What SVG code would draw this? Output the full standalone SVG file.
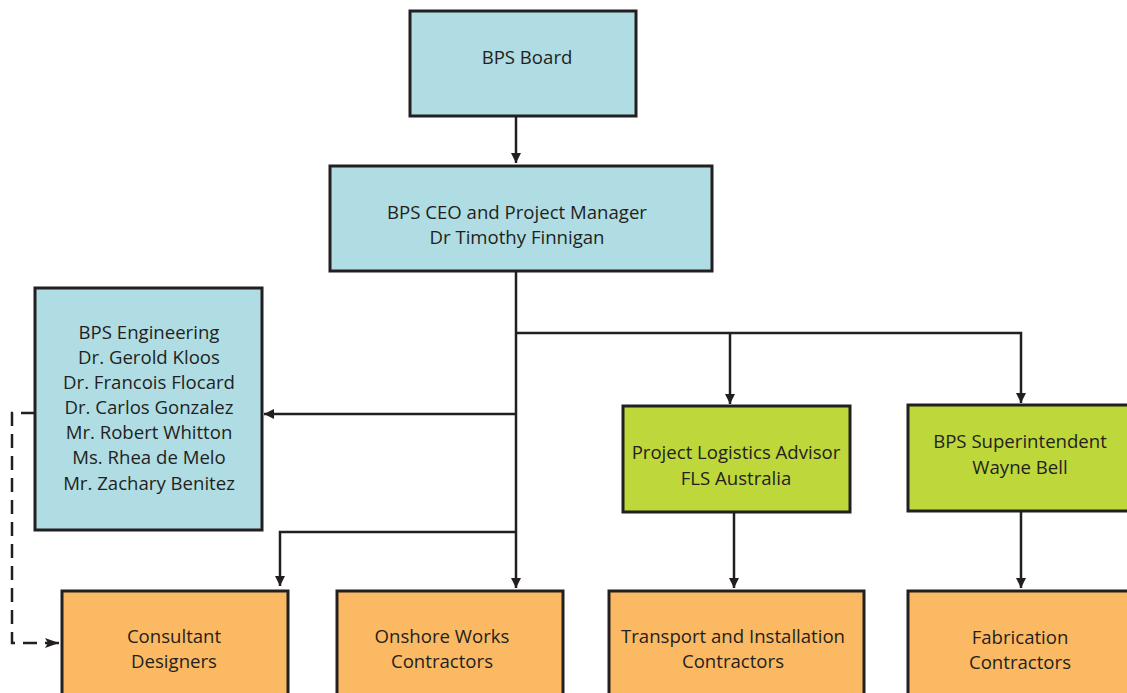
<svg xmlns="http://www.w3.org/2000/svg" width="1127" height="693" viewBox="0 0 1127 693">
<defs>
<marker id="ah" viewBox="0 0 10 10" refX="10" refY="5" markerWidth="10" markerHeight="11" markerUnits="userSpaceOnUse" orient="auto">
<path d="M0,0 L10,5 L0,10 z" fill="#231f20"/>
</marker>
<marker id="ahl" viewBox="0 0 14 10" refX="14" refY="5" markerWidth="14" markerHeight="10" markerUnits="userSpaceOnUse" orient="auto">
<path d="M0,0 L14,5 L0,10 L3,5 z" fill="#231f20"/>
</marker>
</defs>
<style>
.box{stroke:#231f20;stroke-width:3}
.blue{fill:#afdde3}
.green{fill:#bed73b}
.orange{fill:#fbb963}
.t{font-family:"Open Sans","Liberation Sans",sans-serif;font-size:18.6px;fill:#231f20;text-anchor:middle;dominant-baseline:central}
.c{fill:none;stroke:#231f20;stroke-width:2.5}
</style>
<rect width="1127" height="693" fill="#ffffff"/>
<g id="connectors">
<path class="c" d="M516,116 V163" marker-end="url(#ah)"/>
<path class="c" d="M516,271 V588" marker-end="url(#ah)"/>
<path class="c" d="M516,333 H1021 V403" marker-end="url(#ah)"/>
<path class="c" d="M730,333 V404" marker-end="url(#ah)"/>
<path class="c" d="M516,414 H264" marker-end="url(#ah)"/>
<path class="c" d="M516,532 H280 V586" marker-end="url(#ah)"/>
<path class="c" d="M734,512 V588" marker-end="url(#ah)"/>
<path class="c" d="M1021,511 V588" marker-end="url(#ah)"/>
<path class="c" d="M35,413 H12 V643 H59" stroke-dasharray="14,8" marker-end="url(#ahl)"/>
</g>
<g id="board">
<rect class="box blue" x="410" y="11" width="226" height="105"/>
<text class="t" x="527" y="56">BPS Board</text>
</g>
<g id="ceo">
<rect class="box blue" x="330" y="166" width="382" height="105"/>
<text class="t" x="517" y="211">BPS CEO and Project Manager</text>
<text class="t" x="517" y="236">Dr Timothy Finnigan</text>
</g>
<g id="engineering">
<rect class="box blue" x="35" y="288" width="227" height="242"/>
<text class="t" x="149" y="331">BPS Engineering</text>
<text class="t" x="149" y="356">Dr. Gerold Kloos</text>
<text class="t" x="149" y="381">Dr. Francois Flocard</text>
<text class="t" x="149" y="406">Dr. Carlos Gonzalez</text>
<text class="t" x="149" y="431">Mr. Robert Whitton</text>
<text class="t" x="149" y="456">Ms. Rhea de Melo</text>
<text class="t" x="149" y="482">Mr. Zachary Benitez</text>
</g>
<g id="logistics">
<rect class="box green" x="623" y="406" width="227" height="106"/>
<text class="t" x="736" y="451">Project Logistics Advisor</text>
<text class="t" x="736" y="477">FLS Australia</text>
</g>
<g id="superintendent">
<rect class="box green" x="908" y="405" width="225" height="106"/>
<text class="t" x="1020" y="440">BPS Superintendent</text>
<text class="t" x="1020" y="466">Wayne Bell</text>
</g>
<g id="consultant">
<rect class="box orange" x="62" y="591" width="226" height="110"/>
<text class="t" x="174" y="635">Consultant</text>
<text class="t" x="174" y="660">Designers</text>
</g>
<g id="onshore">
<rect class="box orange" x="337" y="591" width="226" height="110"/>
<text class="t" x="442" y="635">Onshore Works</text>
<text class="t" x="442" y="660">Contractors</text>
</g>
<g id="transport">
<rect class="box orange" x="609" y="591" width="255" height="110"/>
<text class="t" x="733" y="635">Transport and Installation</text>
<text class="t" x="733" y="660">Contractors</text>
</g>
<g id="fabrication">
<rect class="box orange" x="908" y="591" width="225" height="110"/>
<text class="t" x="1020" y="636">Fabrication</text>
<text class="t" x="1020" y="661">Contractors</text>
</g>
</svg>
